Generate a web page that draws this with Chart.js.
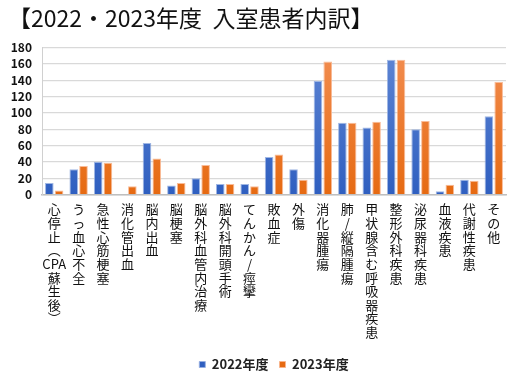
<!DOCTYPE html>
<html><head><meta charset="utf-8">
<script src="https://cdn.jsdelivr.net/npm/chart.js@4.4.1/dist/chart.umd.min.js"></script>
<style>html,body{margin:0;padding:0;background:#fff}#wrap{width:516px;height:382px}</style>
</head><body><div id="wrap"><canvas id="c" width="516" height="382"></canvas></div>
<script>
const categories = [
  ["心","停","止","︵","CPA","蘇","生","後","︶"],
  ["う","っ","血","心","不","全"],
  ["急","性","心","筋","梗","塞"],
  ["消","化","管","出","血"],
  ["脳","内","出","血"],
  ["脳","梗","塞"],
  ["脳","外","科","血","管","内","治","療"],
  ["脳","外","科","開","頭","手","術"],
  ["て","ん","か","ん","/","痙","攣"],
  ["敗","血","症"],
  ["外","傷"],
  ["消","化","器","腫","瘍"],
  ["肺","/","縦","隔","腫","瘍"],
  ["甲","状","腺","含","む","呼","吸","器","疾","患"],
  ["整","形","外","科","疾","患"],
  ["泌","尿","器","科","疾","患"],
  ["血","液","疾","患"],
  ["代","謝","性","疾","患"],
  ["そ","の","他"]
];
const values2022 = [14,31,40,0,63,11,20,13,13,46,31,139,88,82,165,80,4,18,96];
const values2023 = [5,35,39,10,44,14,36,13,10,49,18,163,88,89,165,90,12,17,138];
const seriesNames = ["2022年度","2023年度"];
const yTicks = [0,20,40,60,80,100,120,140,160,180];
const titleText = "【2022・2023年度  入室患者内訳】";

const FONT = "'Noto Sans CJK JP','Noto Sans',sans-serif";

function grad(ctx, top, bottom, solid){
  const chart = ctx.chart; const ca = chart.chartArea;
  if(!ca) return solid;
  const g = chart.ctx.createLinearGradient(0, ca.top, 0, ca.bottom);
  g.addColorStop(0, top); g.addColorStop(1, bottom);
  return g;
}

new Chart(document.getElementById('c'), {
  type: 'bar',
  data: {
    labels: categories,
    datasets: [
      { label: seriesNames[0], data: values2022,
        backgroundColor: c => grad(c, '#5f86d4', '#2f5fc0', '#4472c4'),
        borderColor: 'rgba(150,175,225,0.9)', borderWidth: 1,
        categoryPercentage: 0.8, barPercentage: 0.88 },
      { label: seriesNames[1], data: values2023,
        backgroundColor: c => grad(c, '#f28e52', '#e66a12', '#ed7d31'),
        borderColor: 'rgba(248,180,140,0.9)', borderWidth: 1,
        categoryPercentage: 0.8, barPercentage: 0.88 }
    ]
  },
  options: {
    responsive: false,
    animation: false,
    devicePixelRatio: 1,
    layout: { padding: { left: 8, right: 10, top: 0, bottom: 1 } },
    plugins: {
      title: { display: true, text: titleText, align: 'start', color: '#111',
        font: { family: FONT, size: 23, weight: 'normal' }, padding: { top: 4, bottom: 16 } },
      legend: { position: 'bottom', fullSize: false, labels: { color: '#222', boxWidth: 6, boxHeight: 6,
        font: { family: FONT, size: 13, weight: 'bold' }, padding: 11 } },
      tooltip: { enabled: false }
    },
    scales: {
      x: {
        grid: { display: false, drawTicks: false },
        border: { display: true, color: '#bfbfbf', width: 1.5 },
        ticks: { autoSkip: false, maxRotation: 0, minRotation: 0, padding: 8, color: '#111',
          font: { family: FONT, size: 13, lineHeight: 1.05 } }
      },
      y: {
        min: 0, max: 180,
        afterBuildTicks: s => { s.ticks = yTicks.map(v => ({ value: v })); },
        afterFit: s => { s.width = 34; },
        grid: { color: '#d9d9d9', lineWidth: 1.2, drawTicks: false },
        border: { display: true, color: '#d0d0d0' },
        ticks: { autoSkip: false, padding: 10, color: '#111', font: { family: FONT, size: 12, weight: 'bold' } }
      }
    }
  }
});
</script></body></html>
